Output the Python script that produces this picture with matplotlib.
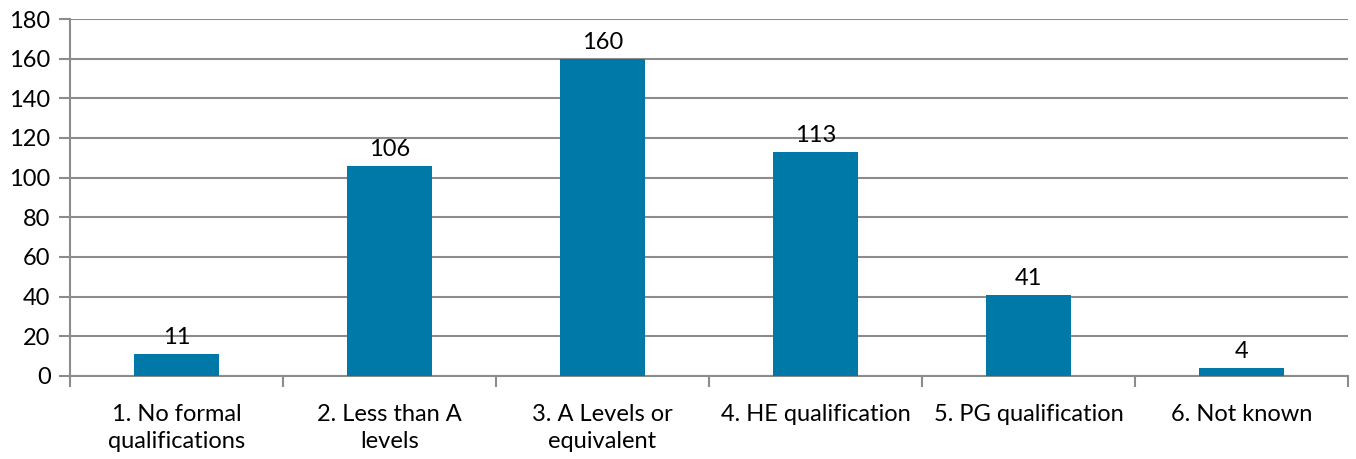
import matplotlib
matplotlib.use("Agg")
import matplotlib.pyplot as plt
import numpy as np

plt.rcParams['font.family'] = ['Lato', 'DejaVu Sans']

categories = ["1. No formal\nqualifications", "2. Less than A\nlevels", "3. A Levels or\nequivalent",
              "4. HE qualification", "5. PG qualification", "6. Not known"]
values = [11, 106, 160, 113, 41, 4]
yticks = [0, 20, 40, 60, 80, 100, 120, 140, 160, 180]

bar_col = '#0079A8'
grid_col = '#8c8c8c'

fig = plt.figure(figsize=(13.56, 4.59), dpi=100)
ax = fig.add_axes([0.0516, 0.181, 0.9425, 0.7776])

x = np.arange(len(categories))
bars = ax.bar(x, values, width=0.4, color=bar_col, zorder=3)
for xi, v in zip(x, values):
    ax.text(xi, v + 3, str(v), ha='center', va='bottom', fontsize=17, color='black', zorder=4)

ax.set_xlim(-0.5, len(categories) - 0.5)
ax.set_ylim(0, 180)
ax.set_yticks(yticks)
ax.set_yticklabels([str(t) for t in yticks], fontsize=17)
ax.yaxis.grid(True, color=grid_col, linewidth=1.5, zorder=0)
ax.tick_params(axis='y', length=8, width=1.5, color=grid_col, pad=6)

ax.set_xticks(x)
ax.set_xticklabels(categories, fontsize=17, linespacing=1.35)
ax.tick_params(axis='x', length=0, pad=20)
ax.set_xticks(np.arange(-0.5, len(categories)), minor=True)
ax.tick_params(axis='x', which='minor', length=8, width=1.5, color=grid_col)

for s in ['top', 'right']:
    ax.spines[s].set_visible(False)
for s in ['left', 'bottom']:
    ax.spines[s].set_color(grid_col)
    ax.spines[s].set_linewidth(1.5)

fig.savefig('out.png', dpi=100)
